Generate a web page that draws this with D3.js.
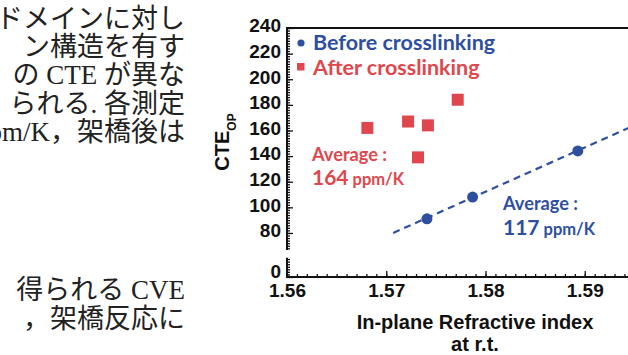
<!DOCTYPE html>
<html>
<head>
<meta charset="utf-8">
<script src="https://cdn.jsdelivr.net/npm/d3@7"></script>
<style>
  body { margin: 0; background: #fff; }
  svg { display: block; }
</style>
</head>
<body>
<svg id="fig" width="628" height="355"></svg>
<script>
// Page text beside the figure (scanned, cut at the left)
const bodyLines = [
  {text: "ドメインに対し", y: 28},
  {text: "ン構造を有す", y: 56},
  {text: "の CTE が異な", y: 84},
  {text: "られる. 各測定", y: 113},
  {text: "ppm/K，架橋後は", y: 141},
  {text: "得られる CVE", y: 299},
  {text: "，架橋反応に", y: 328},
];

// Chart data
const beforeX = [1.5741, 1.5787, 1.5893];
const beforeY = [91, 108, 144];
const afterX = [1.5681, 1.5722, 1.5742, 1.5732, 1.5772];
const afterY = [162, 167, 164, 139, 184];
const trendX = [1.5707, 1.5960];
const trendY = [80, 167.5];
const xTicks = [1.56, 1.57, 1.58, 1.59];
const yTicksHigh = [80, 100, 120, 140, 160, 180, 200, 220, 240];
const yTicksLow = [0];

const blue = "#2e4f9f";
const red = "#e0474d";

const svg = d3.select("#fig");
svg.append("rect").attr("width", 628).attr("height", 355).attr("fill", "#fff");

// -- left column of text --
const txt = svg.append("g")
  .attr("font-family", "'Liberation Serif', 'Noto Sans CJK JP', serif")
  .attr("font-size", 27)
  .attr("fill", "#222");
txt.selectAll("text")
  .data(bodyLines)
  .join("text")
  .attr("x", 185)
  .attr("y", d => d.y)
  .attr("text-anchor", "end")
  .text(d => d.text);

// -- scales --
const x = d3.scaleLinear().domain([1.56, 1.60]).range([287, 684]);
const yHigh = d3.scaleLinear().domain([66.7, 240]).range([250, 28]);
const yLow = d3.scaleLinear().domain([0, 15]).range([277, 257.8]);

const chart = svg.append("g");

// y axis, upper segment
const yAxisHigh = chart.append("g").attr("transform", "translate(287,0)");
yAxisHigh.call(d3.axisLeft(yHigh).tickValues(d3.range(68, 241, 2)).tickFormat("")
  .tickSizeInner(-3).tickSizeOuter(0));
yAxisHigh.select(".domain").remove();
const yMajHigh = chart.append("g").attr("transform", "translate(287,0)");
yMajHigh.call(d3.axisLeft(yHigh).tickValues(yTicksHigh).tickFormat(d3.format("d"))
  .tickSizeInner(-6).tickSizeOuter(0).tickPadding(6));
yMajHigh.select(".domain").remove();

// y axis, lower segment
const yAxisLow = chart.append("g").attr("transform", "translate(287,0)");
yAxisLow.call(d3.axisLeft(yLow).tickValues(d3.range(2, 16, 2)).tickFormat("")
  .tickSizeInner(-3).tickSizeOuter(0));
yAxisLow.select(".domain").remove();
const yMajLow = chart.append("g").attr("transform", "translate(287,0)");
yMajLow.call(d3.axisLeft(yLow).tickValues(yTicksLow).tickFormat(d3.format("d"))
  .tickSizeInner(-6).tickSizeOuter(0).tickPadding(6));
yMajLow.select(".domain").remove();

// x axis
const xMinor = chart.append("g").attr("transform", "translate(0,277)");
xMinor.call(d3.axisBottom(x).tickValues(d3.range(0, 35).map(i => 1.56 + i * 0.001))
  .tickFormat("").tickSizeInner(-3).tickSizeOuter(0));
xMinor.select(".domain").remove();
const xMajor = chart.append("g").attr("transform", "translate(0,277)");
xMajor.call(d3.axisBottom(x).tickValues(xTicks).tickFormat(d3.format(".2f"))
  .tickSizeInner(-6).tickSizeOuter(0).tickPadding(7));
xMajor.select(".domain").remove();

chart.selectAll(".tick line").attr("stroke", "#111").attr("stroke-width", 1.3);
chart.selectAll(".tick text")
  .attr("font-family", "'Liberation Sans', Arial, sans-serif")
  .attr("font-weight", "bold")
  .attr("font-size", 19)
  .attr("fill", "#111");
yMajHigh.selectAll(".tick text").attr("dy", "0.2em");
yMajLow.selectAll(".tick text").attr("dy", "0.05em");

// axis lines and frame
const axisLine = chart.append("g").attr("stroke", "#111").attr("stroke-width", 2).attr("fill", "none");
axisLine.append("line")
  .attr("x1", 287).attr("x2", 287).attr("y1", yHigh(66.7)).attr("y2", yHigh(240));
axisLine.append("line")
  .attr("x1", 287).attr("x2", 287).attr("y1", yLow(0)).attr("y2", yLow(15));
axisLine.append("line")
  .attr("x1", 286).attr("x2", 628).attr("y1", yLow(0)).attr("y2", yLow(0));
axisLine.append("line")
  .attr("x1", 286).attr("x2", 628).attr("y1", yHigh(240)).attr("y2", yHigh(240));

// trend line (dashed)
chart.append("line")
  .attr("x1", x(trendX[0])).attr("y1", yHigh(trendY[0]))
  .attr("x2", x(trendX[1])).attr("y2", yHigh(trendY[1]))
  .attr("stroke", blue).attr("stroke-width", 2.2)
  .attr("stroke-dasharray", "7,5");

// after crosslinking squares
chart.append("g").selectAll("rect")
  .data(afterX.map((d, i) => [d, afterY[i]]))
  .join("rect")
  .attr("x", d => x(d[0]) - 6)
  .attr("y", d => yHigh(d[1]) - 6)
  .attr("width", 12).attr("height", 12)
  .attr("fill", red);

// before crosslinking circles
chart.append("g").selectAll("circle")
  .data(beforeX.map((d, i) => [d, beforeY[i]]))
  .join("circle")
  .attr("cx", d => x(d[0]))
  .attr("cy", d => yHigh(d[1]))
  .attr("r", 5.5)
  .attr("fill", blue);

// legend
const lab = chart.append("g")
  .attr("font-family", "Lato, 'Open Sans', sans-serif")
  .attr("font-weight", "bold");
lab.append("circle").attr("cx", 301).attr("cy", 43).attr("r", 3.6).attr("fill", blue);
lab.append("text").attr("x", 313).attr("y", 50).attr("font-size", 21.5)
  .attr("fill", blue).text("Before crosslinking");
lab.append("rect").attr("x", 297).attr("y", 63).attr("width", 7.5).attr("height", 7.5).attr("fill", red);
lab.append("text").attr("x", 313).attr("y", 75).attr("font-size", 21.5)
  .attr("fill", red).text("After crosslinking");

// averages
lab.append("text").attr("x", 312).attr("y", 161).attr("font-size", 18.2)
  .attr("fill", red).text("Average :");
const r2 = lab.append("text").attr("x", 312).attr("y", 185).attr("fill", red);
r2.append("tspan").attr("font-size", 21).text("164");
r2.append("tspan").attr("font-size", 16.5).attr("dx", 4).text("ppm/K");
lab.append("text").attr("x", 503).attr("y", 210).attr("font-size", 18.2)
  .attr("fill", blue).text("Average :");
const b2 = lab.append("text").attr("x", 503).attr("y", 235).attr("fill", blue);
b2.append("tspan").attr("font-size", 21).text("117");
b2.append("tspan").attr("font-size", 16.5).attr("dx", 4).text("ppm/K");

// axis titles
const ttl = chart.append("g")
  .attr("font-family", "'Liberation Sans', Arial, sans-serif")
  .attr("font-weight", "bold")
  .attr("fill", "#111");
ttl.append("text").attr("x", 475).attr("y", 329).attr("font-size", 20)
  .attr("text-anchor", "middle").text("In-plane Refractive index");
ttl.append("text").attr("x", 475).attr("y", 351).attr("font-size", 20)
  .attr("text-anchor", "middle").text("at r.t.");
const yt = ttl.append("text")
  .attr("transform", "translate(229,142) rotate(-90)")
  .attr("text-anchor", "middle");
yt.append("tspan").attr("font-size", 20).text("CTE");
yt.append("tspan").attr("font-size", 12).attr("dy", 7).text("OP");
</script>
</body>
</html>
